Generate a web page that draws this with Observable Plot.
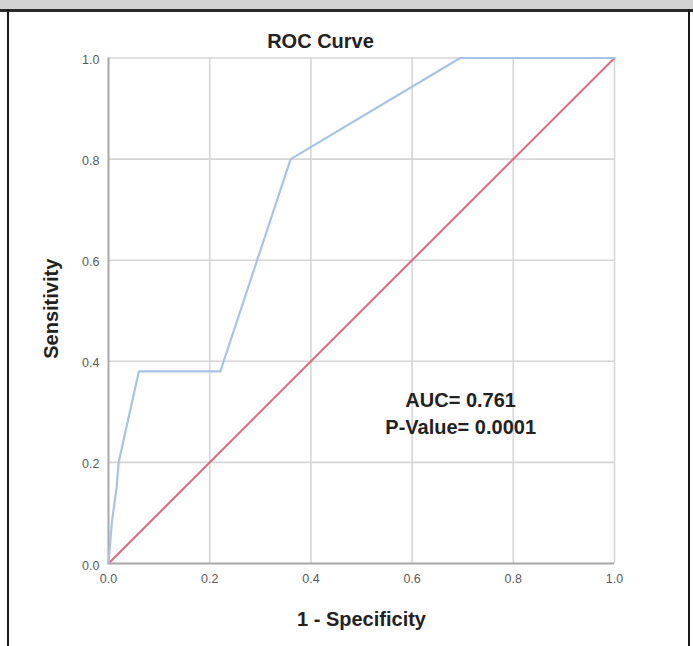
<!DOCTYPE html>
<html>
<head>
<meta charset="utf-8">
<script src="https://cdn.jsdelivr.net/npm/d3@7"></script>
<script src="https://cdn.jsdelivr.net/npm/@observablehq/plot@0.6"></script>
<style>
  html, body { margin: 0; padding: 0; background: #fff; }
  #wrap { position: relative; width: 693px; height: 646px; overflow: hidden; }
  #chart { position: absolute; left: 0; top: 0; }
  #topbar { position: absolute; left: 0; top: 0; width: 693px; height: 9px; background: #d2d2d2; border-bottom: 3px solid #2a2a2a; }
  #lborder { position: absolute; left: 7px; top: 9px; width: 2px; height: 640px; background: #1a1a1a; }
  #rborder { position: absolute; left: 688px; top: 9px; width: 2px; height: 640px; background: #1a1a1a; }
</style>
</head>
<body>
<div id="wrap">
  <div id="chart"></div>
  <div id="topbar"></div>
  <div id="lborder"></div>
  <div id="rborder"></div>
</div>
<script>
// ---- data ----
const rocFpr = [0, 0.007, 0.016, 0.02, 0.06, 0.221, 0.36, 0.695, 1.0];
const rocTpr = [0, 0.085, 0.15, 0.2, 0.38, 0.38, 0.80, 1.0, 1.0];
const refFpr = [0, 1];
const refTpr = [0, 1];
const xTicks = [0, 0.2, 0.4, 0.6, 0.8, 1.0];
const yTicks = [0, 0.2, 0.4, 0.6, 0.8, 1.0];
const gridTicks = [0.2, 0.4, 0.6, 0.8, 1.0];
const titleText = "ROC Curve";
const xLabel = "1 - Specificity";
const yLabel = "Sensitivity";
const annotLabels = ["AUC= 0.761", "P-Value= 0.0001"];
const annotX = [0.696, 0.696];
const annotY = [0.309, 0.257];

const roc = rocFpr.map((x, i) => ({x, y: rocTpr[i]}));
const ref = refFpr.map((x, i) => ({x, y: refTpr[i]}));
const annots = annotLabels.map((t, i) => ({t, x: annotX[i], y: annotY[i]}));
const fmt = d3.format(".1f");

const font = "'Liberation Sans', Arial, sans-serif";

const chart = Plot.plot({
  width: 693,
  height: 646,
  marginLeft: 108,
  marginRight: 79,
  marginTop: 57.5,
  marginBottom: 83,
  style: {fontFamily: font, background: "#fff", overflow: "visible"},
  x: {domain: [0, 1], axis: null},
  y: {domain: [0, 1], axis: null},
  marks: [
    Plot.gridX(gridTicks, {stroke: "#d6d6d6", strokeOpacity: 1, strokeWidth: 1.6}),
    Plot.gridY(gridTicks, {stroke: "#d6d6d6", strokeOpacity: 1, strokeWidth: 1.6}),
    Plot.ruleX([0], {stroke: "#a8a8a8", strokeWidth: 2}),
    Plot.ruleY([0], {stroke: "#a8a8a8", strokeWidth: 2}),
    Plot.line(ref, {x: "x", y: "y", stroke: "#e4667d", strokeWidth: 2}),
    Plot.line(roc, {x: "x", y: "y", stroke: "#a6c5e6", strokeWidth: 2.2}),
    Plot.text(xTicks, {x: d => d, frameAnchor: "bottom", lineAnchor: "top", dy: 11, text: d => fmt(d), fontSize: 12.5, fill: "#5a5a5a"}),
    Plot.text(yTicks, {y: d => d, frameAnchor: "left", textAnchor: "end", lineAnchor: "middle", dx: -9, dy: 2, text: d => fmt(d), fontSize: 12.5, fill: "#5a5a5a"}),
    Plot.text([titleText], {frameAnchor: "top", dx: -41, dy: -10.5, lineAnchor: "bottom", textAnchor: "middle", fontSize: 20, fontWeight: "bold", fill: "#222"}),
    Plot.text([xLabel], {frameAnchor: "bottom", dy: 62, lineAnchor: "bottom", textAnchor: "middle", fontSize: 20, fontWeight: "bold", fill: "#222"}),
    Plot.text([yLabel], {frameAnchor: "left", dx: -57, dy: -2, rotate: -90, lineAnchor: "middle", textAnchor: "middle", fontSize: 20, fontWeight: "bold", fill: "#222"}),
    Plot.text(annots, {x: "x", y: "y", text: "t", lineAnchor: "bottom", textAnchor: "middle", fontSize: 20, fontWeight: "bold", fill: "#222"})
  ]
});
document.getElementById("chart").appendChild(chart);
</script>
</body>
</html>
